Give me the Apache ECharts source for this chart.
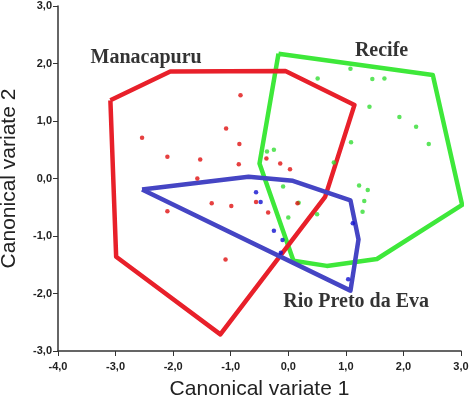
<!DOCTYPE html>
<html>
<head>
<meta charset="utf-8">
<script src="https://cdn.jsdelivr.net/npm/echarts@6/dist/echarts.min.js"></script>
<style>html,body{margin:0;padding:0;background:#fff}#c{width:472px;height:404px}</style>
</head>
<body>
<div id="c"></div>
<script>
// Hull polygons (closed)
const manacapuruHull = [[-3.09,1.36],[-2.05,1.86],[-0.05,1.87],[1.15,1.28],[0.64,-0.32],[-1.18,-2.71],[-2.99,-1.36],[-3.09,1.36]];
const recifeHull = [[-0.17,2.17],[2.51,1.80],[3.02,-0.46],[1.54,-1.40],[0.67,-1.52],[0.09,-1.43],[-0.50,0.26],[-0.17,2.17]];
const rioPretoHull = [[-2.54,-0.19],[-0.69,0.03],[0.08,-0.04],[1.08,-0.38],[1.22,-1.06],[1.08,-1.95],[-2.54,-0.19]];

// Points
const manacapuruPts = [[-0.83,1.45],[-1.08,0.87],[-0.85,0.60],[-2.54,0.71],[-2.10,0.38],[-1.53,0.33],[-0.86,0.25],[-1.58,0.00],[-0.38,0.35],[-0.14,0.26],[0.03,0.16],[-1.33,-0.43],[-0.99,-0.48],[-2.10,-0.57],[-0.56,-0.41],[-0.35,-0.59],[0.16,-0.43],[-1.09,-1.41]];
const recifePts = [[0.51,1.74],[1.08,1.91],[1.46,1.73],[1.67,1.74],[1.41,1.25],[1.93,1.07],[2.22,0.90],[2.44,0.60],[1.09,0.63],[-0.25,0.50],[-0.37,0.47],[0.79,0.28],[-0.09,-0.14],[1.23,-0.12],[1.38,-0.20],[1.32,-0.39],[1.29,-0.58],[0.18,-0.42],[0.50,-0.62],[0.00,-0.68]];
const rioPretoPts = [[-0.56,-0.24],[-0.48,-0.41],[-0.25,-0.91],[-0.10,-1.07],[1.12,-0.78],[1.04,-1.75],[-0.13,-1.29]];

// Group labels
const groupLabels = [
  {name:'Manacapuru', pos:[-2.47,2.10]},
  {name:'Recife', pos:[1.62,2.22]},
  {name:'Rio Preto da Eva', pos:[1.18,-2.15]}
];

const xTitle = 'Canonical variate 1';
const yTitle = 'Canonical variate 2';

const fmt = v => v.toFixed(1).replace('.', ',');
const chart = echarts.init(document.getElementById('c'));
const hullSeries = (data, color, z) => ({
  type:'line', data, symbol:'none', z, lineStyle:{color, width:4.5, join:'round'}, silent:true, animation:false
});
const ptSeries = (data, color, z) => ({
  type:'scatter', data, symbolSize:4.5, z, itemStyle:{color}, animation:false
});
chart.setOption({
  animation:false,
  grid:{left:58, right:11, top:6, bottom:53, containLabel:false, outerBoundsMode:'none'},
  xAxis:{
    type:'value', min:-4, max:3, interval:1,
    name:xTitle, nameLocation:'middle', nameGap:28,
    nameTextStyle:{fontFamily:'Liberation Sans', fontSize:21, color:'#222'},
    axisLine:{onZero:false, lineStyle:{color:'#333', width:1.5}},
    axisTick:{show:true, length:5, lineStyle:{color:'#333'}},
    axisLabel:{formatter:fmt, fontFamily:'Liberation Sans', fontSize:11, fontWeight:'bold', color:'#222', margin:10},
    splitLine:{show:false}
  },
  yAxis:{
    type:'value', min:-3, max:3, interval:1,
    name:yTitle, nameLocation:'middle', nameGap:38,
    nameTextStyle:{fontFamily:'Liberation Sans', fontSize:21, color:'#222'},
    axisLine:{show:true, onZero:false, lineStyle:{color:'#333', width:1.5}},
    axisTick:{show:true, length:5, lineStyle:{color:'#333'}},
    axisLabel:{formatter:fmt, fontFamily:'Liberation Sans', fontSize:11, fontWeight:'bold', color:'#222', margin:6},
    splitLine:{show:false}
  },
  series:[
    hullSeries(recifeHull, '#3ee83a', 2),
    hullSeries(manacapuruHull, '#e8202a', 3),
    hullSeries(rioPretoHull, '#4545c4', 4),
    ptSeries(recifePts, '#33dd33', 5),
    ptSeries(manacapuruPts, '#e01010', 5),
    ptSeries(rioPretoPts, '#1010d0', 6),
    {
      type:'scatter', symbolSize:0, z:7,
      data: groupLabels.map(g => ({value:g.pos, name:g.name})),
      label:{show:true, position:'inside', formatter:p=>p.name, fontFamily:'Liberation Serif', fontWeight:'bold', fontSize:20, color:'#000'}
    }
  ]
});
</script>
</body>
</html>
